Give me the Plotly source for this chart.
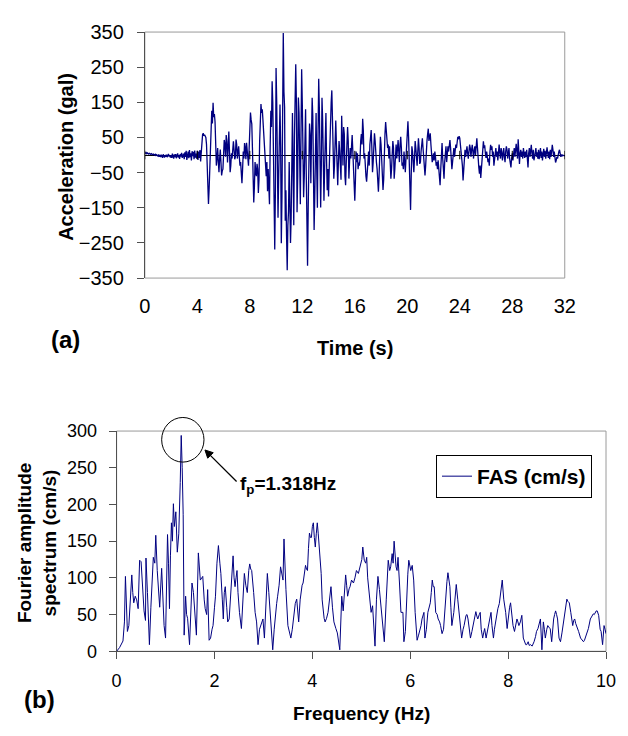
import plotly.graph_objects as go

W, H = 628, 736

# ---------------- (a) acceleration time history (gal), sampled every 0.05 s ----------------
dt = 0.05
acc_s00 = [6, 5, 7, 4, 6, 5, 3, 5, 4, 2, 4, 3, 1, 3, 2, 0, 2, -1, 1, 0]
acc_s01 = [-3, 2, -5, 0, -6, 1, -4, -8, 2, -3, -7, 0, -5, 1, -6, -2, 3, -4, -1, -7]
acc_s02 = [0, -8, 4, -5, -10, 2, -6, 3, -9, -2, 5, -7, 0, -11, 3, -4, 6, -8, -1, 4]
acc_s03 = [-12, 8, -5, 12, -14, 3, 10, -9, 14, -6, 5, -15, 11, -3, 9, -12, 13, -7, 4, -10]
acc_s04 = [12, -14, 10, -8, 14, -18, 20, 45, 58, 62, 55, 58, 52, 50, 30, -60, -115, -139, -95, -40]
acc_s05 = [-10, 60, 126, 90, 149, 108, 117, 95, 40, -30, -10, 20, -20, -49, -10, 16, -20, -58, -45, -40]
acc_s06 = [0, 43, 30, -5, 57, 40, -21, 20, 67, 10, -49, -30, 5, -10, 20, 39, 15, -12, -5, 44]
acc_s07 = [30, -10, 10, 25, -5, -30, -20, -55, -80, -40, 10, -10, 34, 20, -12, 35, 15, -20, -30, 20]
acc_s08 = [60, 121, 100, 89, 20, -80, -135, -90, -20, -49, -60, -25, -40, -108, -70, 40, 117, 145, 120, 130]
acc_s09 = [100, 60, 30, -10, -30, -60, -20, -103, -40, -90, -140, 20, 126, 80, 210, 150, 0, -150, -269, -100]
acc_s10 = [248, 150, -20, -178, -60, 100, 144, 20, -251, -120, 200, 347, 180, 136, -187, -100, -230, -328, -200, -160]
acc_s11 = [-20, -150, -250, -180, 0, 120, -50, -200, 50, 180, 258, 150, -163, -60, 164, 120, -90, -140, 60, 244]
acc_s12 = [145, 30, -120, -60, 100, 130, -50, -200, -315, -150, 40, 90, 60, -80, 50, 163, 110, -100, -213, -120]
acc_s13 = [40, 120, -40, -150, 60, 217, 130, -60, -149, -30, 163, 100, -50, -130, -40, 90, 120, -20, -100, -40]
acc_s14 = [-118, -40, 60, 120, 150, 184, 110, 20, -67, -30, 40, 98, 30, -50, -86, -20, 40, 10, -60, -70]
acc_s15 = [112, 40, -30, 80, 60, -60, -86, -20, 30, 80, 40, -67, -20, 20, -10, 30, 57, 10, -60, -110]
acc_s16 = [-130, -70, 10, -20, 5, -40, -21, -30, -10, 40, 60, 30, 103, 70, -10, 5, -40, -60, -76, -30]
acc_s17 = [-21, 10, -30, 30, 60, 71, 20, -49, -20, 30, 62, 40, -10, -21, -40, -80, -104, -60, 10, 52]
acc_s18 = [30, -30, -60, -99, -70, 20, 60, 94, 70, 62, 20, 30, -10, 25, -20, -67, -40, 10, 40, 20]
acc_s19 = [-67, -40, 10, 30, -10, 20, 43, 10, -20, 30, 52, 20, -30, -21, -40, 10, -20, -49, -10, 40]
acc_s20 = [60, 96, 50, -30, -90, -156, -60, 25, 10, -20, -49, -10, 40, 20, -20, -30, 10, 48, 20, -25]
acc_s21 = [-20, 10, 30, 48, 20, -20, -40, -58, -30, 20, 40, 60, 75, 40, 50, 62, 30, -10, -20, -12]
acc_s22 = [5, -15, 10, -5, -30, -20, -40, -15, -50, -70, -86, -40, 10, 34, -10, -40, -67, -20, 10, 25]
acc_s23 = [-20, 10, 25, 10, 30, 43, 20, -10, -40, -20, 10, 20, -5, 15, 30, 20, 40, 52, 45, 54]
acc_s24 = [48, 30, 10, -10, -30, -72, -40, 0, 15, -5, 20, 25, 5, -10, 10, 30, 20, -5, 15, 29]
acc_s25 = [10, -10, 15, 25, 0, 30, 48, 20, -21, -35, -53, -30, -65, -40, -10, 15, 39, 20, 28, 5]
acc_s26 = [-8, 10, -15, -20, -10, -30, 10, 29, 15, 25, -5, 10, -30, -10, 5, 20, -5, 10, -15, 20]
acc_s27 = [30, 5, -10, 20, 10, -15, 5, 20, -5, -20, 10, 25, 15, -10, 5, 20, -10, -25, -35, -10]
acc_s28 = [5, -15, 10, 20, -5, 15, 32, 10, -10, 45, -15, -25, 5, 15, -5, 10, -10, 20, 5, -8]
acc_s29 = [10, -5, 15, -10, -35, 5, 20, -5, 10, 29, 5, -10, 15, -15, -5, 10, 20, -5, 8, -10]
acc_s30 = [15, -12, 5, 20, -8, 10, -15, 5, 18, -5, 12, -10, 8, 22, 5, -8, 10, -12, 15, -5]
acc_s31 = [10, 29, 15, -5, 10, -10, -21, -15, -5, -10, 5, 10, 15, 3, -5, 2, -3, 0, -3, -2]
acc_end = [-3]

acc = (acc_s00 + acc_s01 + acc_s02 + acc_s03 + acc_s04 + acc_s05 + acc_s06 + acc_s07 +
       acc_s08 + acc_s09 + acc_s10 + acc_s11 + acc_s12 + acc_s13 + acc_s14 + acc_s15 +
       acc_s16 + acc_s17 + acc_s18 + acc_s19 + acc_s20 + acc_s21 + acc_s22 + acc_s23 +
       acc_s24 + acc_s25 + acc_s26 + acc_s27 + acc_s28 + acc_s29 + acc_s30 + acc_s31 + acc_end)
time_s = [round(i * dt, 2) for i in range(len(acc))]

time_ticks = [0, 4, 8, 12, 16, 20, 24, 28, 32]
acc_ticks = [-350, -250, -150, -50, 50, 150, 250, 350]

# ---------------- (b) Fourier amplitude spectrum (cm/s) ----------------
fas_freq = [0, 0.06, 0.13, 0.16, 0.18, 0.2, 0.22, 0.25, 0.28, 0.31, 0.33, 0.35, 0.38, 0.41, 0.44,
            0.47, 0.5, 0.53, 0.56, 0.59, 0.6, 0.63, 0.67, 0.7, 0.73, 0.75, 0.78, 0.8, 0.83, 0.86,
            0.88, 0.92, 0.95, 0.97, 1.0, 1.02, 1.04, 1.06, 1.08, 1.1, 1.12, 1.14, 1.16, 1.18, 1.21,
            1.24, 1.27, 1.3, 1.32, 1.34, 1.36, 1.38, 1.41, 1.43, 1.45, 1.49, 1.52, 1.54, 1.57, 1.6,
            1.63, 1.67, 1.69, 1.71, 1.74, 1.76, 1.79, 1.81, 1.84, 1.86, 1.89, 1.92, 1.95, 1.97, 2.0,
            2.02, 2.05, 2.08, 2.11, 2.13, 2.16, 2.18, 2.2, 2.22, 2.25, 2.27, 2.3, 2.34, 2.38, 2.4,
            2.42, 2.44, 2.46, 2.48, 2.51, 2.55, 2.58, 2.61, 2.64, 2.67, 2.7, 2.72, 2.74, 2.76, 2.8,
            2.83, 2.86, 2.89, 2.92, 2.95, 2.99, 3.02, 3.05, 3.08, 3.11, 3.15, 3.19, 3.22, 3.24, 3.27,
            3.29, 3.32, 3.35, 3.38, 3.4, 3.42, 3.44, 3.46, 3.5, 3.53, 3.56, 3.59, 3.62, 3.65, 3.68,
            3.7, 3.72, 3.75, 3.77, 3.79, 3.81, 3.84, 3.86, 3.88, 3.9, 3.92, 3.94, 3.96, 3.98, 4.0,
            4.02, 4.04, 4.06, 4.08, 4.1, 4.12, 4.14, 4.16, 4.18, 4.2, 4.22, 4.24, 4.26, 4.29, 4.32,
            4.35, 4.38, 4.41, 4.44, 4.48, 4.51, 4.56, 4.6, 4.63, 4.65, 4.68, 4.7, 4.72, 4.75, 4.77,
            4.8, 4.84, 4.87, 4.9, 4.94, 4.98, 5.01, 5.03, 5.06, 5.09, 5.11, 5.13, 5.15, 5.18, 5.2,
            5.23, 5.25, 5.28, 5.31, 5.34, 5.37, 5.4, 5.43, 5.47, 5.51, 5.53, 5.55, 5.58, 5.6, 5.63,
            5.65, 5.67, 5.69, 5.71, 5.73, 5.75, 5.78, 5.81, 5.85, 5.87, 5.9, 5.93, 5.95, 5.97, 5.99,
            6.01, 6.04, 6.07, 6.1, 6.14, 6.17, 6.19, 6.22, 6.24, 6.28, 6.3, 6.33, 6.36, 6.39, 6.41,
            6.43, 6.45, 6.47, 6.49, 6.52, 6.55, 6.57, 6.6, 6.62, 6.65, 6.68, 6.7, 6.73, 6.75, 6.77,
            6.79, 6.81, 6.83, 6.85, 6.89, 6.91, 6.94, 6.97, 7.0, 7.02, 7.05, 7.08, 7.1, 7.14, 7.16,
            7.18, 7.2, 7.23, 7.26, 7.28, 7.31, 7.34, 7.36, 7.38, 7.41, 7.43, 7.45, 7.48, 7.5, 7.52,
            7.55, 7.57, 7.59, 7.62, 7.65, 7.67, 7.7, 7.72, 7.75, 7.77, 7.79, 7.82, 7.85, 7.88, 7.91,
            7.95, 7.98, 8.01, 8.03, 8.05, 8.08, 8.1, 8.13, 8.16, 8.18, 8.2, 8.22, 8.25, 8.28, 8.31,
            8.34, 8.36, 8.38, 8.41, 8.43, 8.46, 8.49, 8.51, 8.53, 8.56, 8.58, 8.61, 8.64, 8.66, 8.69,
            8.72, 8.74, 8.76, 8.79, 8.81, 8.84, 8.86, 8.89, 8.91, 8.93, 8.95, 8.97, 8.99, 9.01, 9.04,
            9.07, 9.1, 9.12, 9.14, 9.16, 9.18, 9.2, 9.22, 9.25, 9.28, 9.3, 9.32, 9.34, 9.36, 9.38,
            9.4, 9.44, 9.48, 9.51, 9.54, 9.56, 9.59, 9.62, 9.64, 9.68, 9.71, 9.74, 9.76, 9.78, 9.8,
            9.82, 9.85, 9.88, 9.9, 9.93, 9.96, 9.98, 10.0]
fas_amp = [0, 5, 14, 40, 102, 60, 27, 35, 70, 104, 80, 66, 75, 70, 58,
           124, 122, 90, 55, 42, 127, 80, 9, 60, 100, 128, 120, 158, 110, 80,
           60, 113, 60, 35, 18, 70, 159, 120, 58, 130, 175, 150, 201, 170, 190,
           135, 160, 230, 294, 250, 186, 22, 75, 50, 45, 9, 60, 93, 80, 50,
           22, 134, 110, 97, 100, 102, 70, 58, 50, 84, 15, 18, 30, 35, 60,
           75, 120, 144, 120, 106, 70, 44, 80, 88, 60, 40, 44, 90, 130, 100,
           88, 100, 110, 80, 53, 31, 70, 106, 90, 80, 110, 119, 112, 110, 80,
           53, 40, 9, 30, 35, 44, 18, 60, 106, 80, 35, 2, 30, 48, 65,
           75, 90, 115, 100, 97, 153, 110, 84, 35, 25, 18, 30, 53, 65, 71,
           55, 40, 70, 84, 90, 93, 105, 117, 112, 110, 140, 161, 155, 155, 170,
           175, 155, 142, 160, 175, 160, 142, 120, 106, 70, 53, 45, 40, 45, 53,
           75, 88, 60, 40, 31, 25, 2, 75, 55, 70, 104, 90, 75, 85, 88,
           97, 93, 100, 110, 106, 117, 125, 142, 124, 120, 128, 100, 84, 60, 53,
           62, 40, 7, 71, 102, 84, 60, 35, 13, 71, 100, 124, 110, 115, 133,
           120, 150, 125, 115, 110, 128, 93, 53, 53, 13, 27, 84, 105, 124, 118,
           110, 117, 97, 53, 15, 22, 27, 35, 44, 53, 18, 30, 53, 60, 66,
           80, 97, 88, 88, 53, 50, 44, 40, 35, 24, 30, 53, 88, 95, 107,
           100, 88, 60, 35, 53, 70, 91, 71, 53, 35, 18, 30, 35, 49, 50,
           44, 35, 18, 27, 35, 45, 54, 48, 44, 50, 53, 30, 18, 25, 31,
           18, 25, 35, 45, 53, 35, 18, 30, 44, 55, 58, 65, 82, 97, 71,
           53, 31, 53, 60, 66, 44, 35, 27, 35, 44, 40, 35, 40, 49, 18,
           13, 9, 9, 13, 8, 9, 7, 12, 13, 20, 27, 31, 40, 44, 2,
           40, 30, 18, 30, 35, 32, 31, 13, 30, 44, 50, 55, 50, 44, 18,
           13, 25, 35, 40, 53, 62, 71, 68, 66, 53, 40, 35, 42, 44, 38,
           35, 27, 18, 15, 13, 15, 22, 26, 31, 44, 48, 51, 50, 53, 55,
           55, 49, 30, 27, 9, 35, 30, 24]

freq_ticks = [0, 2, 4, 6, 8, 10]
fas_ticks = [0, 50, 100, 150, 200, 250, 300]

# ---------------- layout helpers (pixel -> paper) ----------------
def fx(p):
    return p / W


def fy(p):
    return 1 - p / H


FONT = "Liberation Sans, Arial, sans-serif"
NAVY = "#000080"
AXC = "#505050"
BORDER = "#9a9a9a"

top_xdom = [fx(142.7), fx(574.3)]
top_ydom = [fy(275.3), fy(21.7)]
bot_xdom = [fx(113.7), fx(616.7)]
bot_ydom = [fy(660), fy(433)]

fig = go.Figure()

fig.add_trace(go.Scatter(x=time_s, y=acc, mode="lines", line=dict(color=NAVY, width=1.3),
                         xaxis="x", yaxis="y", showlegend=False, hoverinfo="skip"))
fig.add_trace(go.Scatter(x=fas_freq, y=fas_amp, mode="lines", line=dict(color=NAVY, width=1),
                         xaxis="x2", yaxis="y2", name="FAS (cm/s)", showlegend=True,
                         hoverinfo="skip"))

tick_font_top = dict(family=FONT, size=20, color="black")
tick_font_bot = dict(family=FONT, size=18, color="black")

fig.update_layout(
    width=W, height=H,
    margin=dict(l=0, r=0, t=0, b=0),
    paper_bgcolor="white", plot_bgcolor="white",
    xaxis=dict(domain=top_xdom, anchor="y", range=[0, 32], tickvals=time_ticks,
               ticks="", showline=False, showgrid=False, zeroline=False,
               tickfont=tick_font_top, ticklabelstandoff=14),
    yaxis=dict(domain=top_ydom, anchor="x", range=[-350, 350], tickvals=acc_ticks,
               ticks="outside", ticklen=7, tickcolor=AXC, showline=True, linecolor=AXC,
               linewidth=1, showgrid=False, zeroline=True, zerolinecolor="black",
               zerolinewidth=1, tickfont=tick_font_top, ticklabelstandoff=9),
    xaxis2=dict(domain=bot_xdom, anchor="y2", range=[0, 10], tickvals=freq_ticks,
                ticks="outside", ticklen=7, tickcolor=AXC, showline=True, linecolor=AXC,
                showgrid=False, zeroline=False, tickfont=tick_font_bot, ticklabelstandoff=6),
    yaxis2=dict(domain=bot_ydom, anchor="x2", range=[0, 300], tickvals=fas_ticks,
                ticks="outside", ticklen=7, tickcolor=AXC, showline=True, linecolor=AXC,
                showgrid=False, zeroline=False, tickfont=tick_font_bot, ticklabelstandoff=8),
    legend=dict(x=fx(602.3), xanchor="right", y=fy(457.7), yanchor="top",
                bordercolor="black", borderwidth=1, bgcolor="white",
                font=dict(family=FONT, size=21, color="black", weight="bold"),
                itemwidth=30, tracegroupgap=0),
    showlegend=True,
)

# plot-area borders (gray) for both panels
for xr, yr in (("x domain", "y domain"), ("x2 domain", "y2 domain")):
    fig.add_shape(type="rect", xref=xr, yref=yr, x0=0, x1=1, y0=0, y1=1,
                  line=dict(color=BORDER, width=1), layer="below")

# crossing tick marks on the zero line of panel (a), placed through the x scale
for t in time_ticks:
    fig.add_shape(type="line", xref="x", yref="y", x0=t, x1=t, y0=-12, y1=12,
                  line=dict(color="black", width=1))

bold = dict(family=FONT, color="black", weight="bold")

ann = [
    dict(text="Acceleration (gal)", x=fx(61), y=fy(150), textangle=-90, font=dict(size=20, **bold)),
    dict(text="Time (s)", x=fx(359), y=fy(347), font=dict(size=20, **bold)),
    dict(text="(a)", x=fx(61), y=fy(339), font=dict(size=24, **bold)),
    dict(text="Fourier amplitude", x=fx(19), y=fy(548), textangle=-90, font=dict(size=19, **bold)),
    dict(text="spectrum (cm/s)", x=fx(45), y=fy(548), textangle=-90, font=dict(size=19, **bold)),
    dict(text="Frequency (Hz)", x=fx(365), y=fy(724), font=dict(size=19, **bold)),
    dict(text="(b)", x=fx(34), y=fy(710), font=dict(size=24, **bold)),
]
for a in ann:
    fig.add_annotation(xref="paper", yref="paper", xanchor="center", yanchor="middle",
                       showarrow=False, **a)

# peak annotation: circle, arrow (line + filled head) and label
fig.add_shape(type="circle", xref="paper", yref="paper",
              x0=fx(160), x1=fx(203.5), y0=fy(465), y1=fy(419),
              line=dict(color="black", width=1))
fig.add_shape(type="line", xref="paper", yref="paper",
              x0=fx(237), y0=fy(485), x1=fx(209), y1=fy(457),
              line=dict(color="black", width=1.3))
head = [(204.5, 452.5), (213.0, 455.3), (207.3, 461.0)]
head_path = "M {} {} L {} {} L {} {} Z".format(
    fx(head[0][0]), fy(head[0][1]), fx(head[1][0]), fy(head[1][1]), fx(head[2][0]), fy(head[2][1]))
fig.add_shape(type="path", xref="paper", yref="paper", path=head_path,
              fillcolor="black", line=dict(color="black", width=1))
fig.add_annotation(xref="paper", yref="paper", x=fx(238), y=fy(489), xanchor="left",
                   yanchor="middle", showarrow=False,
                   text="f<sub>p</sub>=1.318Hz", font=dict(size=19, **bold))

fig.write_html("out.html")
